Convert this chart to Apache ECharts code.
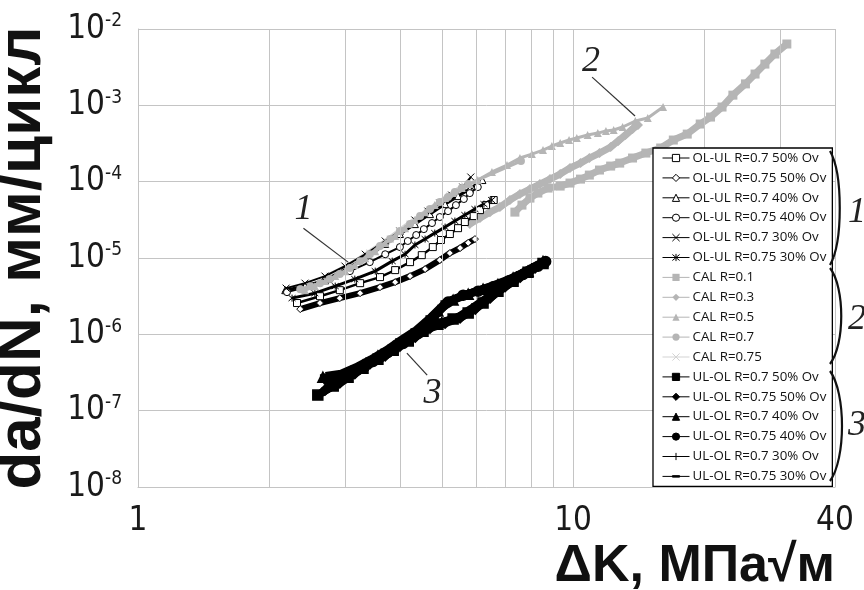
<!DOCTYPE html>
<html><head><meta charset="utf-8">
<script src="https://cdn.jsdelivr.net/npm/echarts/dist/echarts.min.js"></script>
<style>html,body{margin:0;padding:0;background:#fff}#c{width:864px;height:590px}</style>
</head><body><div id="c"></div>
<script>
// ---- axis ticks ----
const xMinorGrid = [2, 3, 4, 5, 6, 7, 8, 9, 20, 30];
const xRange = [1, 40];
const yRange = [1e-8, 1e-2];

// ---- series names ----
const namesOLUL = ['OL-UL R=0.7 50% Ov', 'OL-UL R=0.75 50% Ov', 'OL-UL R=0.7 40% Ov', 'OL-UL R=0.75 40% Ov', 'OL-UL R=0.7 30% Ov', 'OL-UL R=0.75 30% Ov'];
const namesCAL = ['CAL R=0.1', 'CAL R=0.3', 'CAL R=0.5', 'CAL R=0.7', 'CAL R=0.75'];
const namesULOL = ['UL-OL R=0.7 50% Ov', 'UL-OL R=0.75 50% Ov', 'UL-OL R=0.7 40% Ov', 'UL-OL R=0.75 40% Ov', 'UL-OL R=0.7 30% Ov', 'UL-OL R=0.75 30% Ov'];

// ---- data [ΔK, da/dN] ----
const olul_07_50 = [[2.32,2.57e-6],[2.62,3.16e-6],[2.91,3.79e-6],[3.24,4.68e-6],[3.60,5.62e-6],[3.90,6.94e-6],[4.22,8.83e-6],[4.49,1.09e-5],[4.76,1.39e-5],[4.97,1.72e-5],[5.21,2.06e-5],[5.44,2.46e-5],[5.64,2.96e-5],[5.91,3.54e-5],[6.11,4.24e-5],[6.31,4.93e-5],[6.57,5.74e-5]];
const olul_075_50 = [[2.36,2.14e-6],[2.62,2.57e-6],[2.91,2.98e-6],[3.24,3.46e-6],[3.60,4.15e-6],[3.90,4.83e-6],[4.22,5.79e-6],[4.57,7.15e-6],[4.94,9.38e-6],[5.21,1.16e-5],[5.50,1.35e-5],[5.74,1.58e-5],[5.95,1.77e-5]];
const olul_07_40 = [[2.18,3.79e-6],[2.42,4.28e-6],[2.69,5.13e-6],[2.99,6.94e-6],[3.33,9.96e-6],[3.70,1.53e-5],[4.00,2.06e-5],[4.33,2.78e-5],[4.69,3.76e-5],[5.08,5.08e-5],[5.44,6.47e-5],[5.79,8.0e-5],[6.19,1.05e-4]];
const olul_075_40 = [[2.20,3.57e-6],[2.49,4.28e-6],[2.76,5.29e-6],[3.07,6.73e-6],[3.41,8.83e-6],[3.70,1.12e-5],[4.00,1.39e-5],[4.17,1.67e-5],[4.36,2.00e-5],[4.54,2.39e-5],[4.74,2.87e-5],[4.94,3.44e-5],[5.16,4.11e-5],[5.38,4.93e-5],[5.61,5.92e-5],[5.79,7.08e-5],[6.04,8.49e-5]];
const olul_07_30 = [[2.19,4.03e-6],[2.42,4.68e-6],[2.69,5.79e-6],[2.99,7.83e-6],[3.33,1.12e-5],[3.70,1.67e-5],[4.00,2.25e-5],[4.33,3.14e-5],[4.64,4.11e-5],[4.94,5.24e-5],[5.26,6.67e-5],[5.58,8.49e-5],[5.82,1.15e-4]];
const olul_075_30 = [[2.26,2.98e-6],[2.55,3.46e-6],[2.84,4.28e-6],[3.15,5.29e-6],[3.51,6.73e-6],[3.84,9.1e-6],[4.11,1.12e-5],[4.33,1.48e-5],[4.57,1.77e-5],[4.81,2.12e-5],[5.08,2.54e-5],[5.35,3.05e-5],[5.64,3.65e-5],[5.95,4.37e-5],[6.24,5.08e-5],[6.50,5.74e-5]];

const cal_01 = [[7.35,3.99e-5],[7.63,4.93e-5],[7.96,6.09e-5],[8.30,7.09e-5],[8.76,8.24e-5],[9.34,8.75e-5],[9.84,9.59e-5],[10.4,1.08e-4],[10.9,1.22e-4],[11.5,1.42e-4],[12.2,1.60e-4],[12.8,1.75e-4],[13.7,2.04e-4],[14.7,2.37e-4],[15.9,2.76e-4],[17.0,3.51e-4],[18.3,4.2e-4],[19.6,5.69e-4],[20.7,7.02e-4],[22.0,9.5e-4],[23.3,1.36e-3],[24.9,1.91e-3],[26.2,2.57e-3],[27.6,3.47e-3],[29.1,4.7e-3],[31.0,6.36e-3]];
const cal_03 = [[5.79,2.78e-5],[6.11,3.34e-5],[6.44,3.99e-5],[6.79,4.64e-5],[7.16,5.74e-5],[7.55,6.87e-5],[7.96,8.0e-5],[8.39,9.3e-5],[8.85,1.08e-4],[9.34,1.26e-4],[9.84,1.51e-4],[10.4,1.75e-4],[10.9,2.04e-4],[11.5,2.37e-4],[12.2,2.84e-4],[12.7,3.41e-4],[13.2,4.08e-4],[13.7,4.9e-4],[14.1,5.52e-4]];
const cal_05 = [[2.42,3.79e-6],[2.55,4.28e-6],[2.69,4.98e-6],[2.84,5.79e-6],[2.99,6.73e-6],[3.15,8.07e-6],[3.33,9.96e-6],[3.51,1.23e-5],[3.70,1.57e-5],[3.90,1.94e-5],[4.11,2.46e-5],[4.33,3.14e-5],[4.57,3.99e-5],[4.81,4.93e-5],[5.08,6.09e-5],[5.29,7.09e-5],[5.55,8.24e-5],[5.79,9.3e-5],[6.04,1.05e-4],[6.51,1.34e-4],[7.05,1.65e-4],[7.55,2.04e-4],[8.04,2.30e-4],[8.53,2.59e-4],[8.94,2.93e-4],[9.34,3.21e-4],[9.79,3.51e-4],[10.2,3.73e-4],[10.8,4.08e-4],[11.4,4.33e-4],[11.9,4.61e-4],[12.4,4.75e-4],[13.0,5.2e-4],[13.9,6.23e-4],[14.85,6.82e-4],[16.1,9.5e-4]];
const cal_07 = [[2.36,3.91e-6],[2.49,4.28e-6],[2.62,4.68e-6],[2.76,5.29e-6],[2.91,6.15e-6],[3.07,7.37e-6],[3.24,9.1e-6],[3.41,1.12e-5],[3.60,1.44e-5],[3.80,1.77e-5],[4.00,2.25e-5],[4.22,2.78e-5],[4.45,3.54e-5],[4.69,4.37e-5],[4.94,5.4e-5],[5.16,6.28e-5],[5.35,7.3e-5],[5.55,8.24e-5],[5.74,9.3e-5],[7.59,1.86e-4]];
const cal_075 = [[2.76,5.79e-6],[3.07,7.83e-6],[3.41,1.16e-5],[3.80,1.77e-5],[4.22,2.78e-5],[4.69,4.24e-5],[5.21,6.47e-5],[5.64,8.75e-5]];

const ulol_07_50 = [[2.59,1.60e-7],[2.81,2.10e-7],[3.04,2.75e-7],[3.29,3.6e-7],[3.56,4.7e-7],[3.86,6.21e-7],[4.18,8.2e-7],[4.52,1.10e-6],[4.89,1.36e-6],[5.30,1.59e-6],[5.74,1.90e-6],[6.21,2.57e-6],[6.72,3.68e-6],[7.28,4.97e-6],[7.88,6.5e-6],[8.53,8.5e-6]];
const ulol_075_50 = [[2.69,1.86e-7],[2.91,2.3e-7],[3.15,3.05e-7],[3.41,4.1e-7],[3.70,5.2e-7],[4.00,7.0e-7],[4.34,9.2e-7],[4.69,1.2e-6],[5.08,1.40e-6],[5.50,1.64e-6],[5.96,2.14e-6],[6.45,3.0e-6],[6.98,4.2e-6],[7.56,5.6e-6],[8.18,7.4e-6]];
const ulol_07_40 = [[2.66,2.75e-7],[2.81,2.6e-7],[3.04,3.1e-7],[3.29,3.95e-7],[3.56,5.2e-7],[3.86,6.9e-7],[4.18,9.2e-7],[4.52,1.3e-6],[4.89,2.02e-6],[5.30,2.81e-6],[5.74,3.36e-6],[6.21,3.91e-6],[6.72,4.5e-6],[7.28,5.5e-6],[7.88,6.7e-6],[8.53,9.0e-6]];
const ulol_075_40 = [[2.73,2.51e-7],[2.96,2.8e-7],[3.20,3.5e-7],[3.47,4.4e-7],[3.75,5.8e-7],[4.07,7.6e-7],[4.40,1.03e-6],[4.77,1.64e-6],[5.16,2.65e-6],[5.59,3.26e-6],[6.05,3.68e-6],[6.55,4.2e-6],[7.10,5.0e-6],[7.68,6.1e-6],[8.31,7.8e-6],[8.65,9.0e-6]];
const ulol_07_30 = [[2.65,1.74e-7],[2.87,2.3e-7],[3.10,3.05e-7],[3.36,3.95e-7],[3.64,5.34e-7],[3.94,7.0e-7],[4.27,9.2e-7],[4.61,1.2e-6],[4.99,1.45e-6],[5.41,1.64e-6],[5.86,2.21e-6],[6.34,3.0e-6],[6.86,4.3e-6],[7.43,5.8e-6],[8.04,7.4e-6]];
const ulol_075_30 = [[2.70,2.84e-7],[2.93,3.05e-7],[3.17,3.7e-7],[3.43,4.7e-7],[3.72,6.2e-7],[4.02,8.4e-7],[4.36,1.14e-6],[4.72,1.69e-6],[5.11,2.65e-6],[5.54,3.16e-6],[6.00,3.68e-6],[6.49,4.3e-6],[7.03,5.1e-6],[7.61,6.3e-6],[8.24,8.0e-6]];

// ---- annotation anchors (data coords) ----
const annotations = [
  {text: '1', label: [2.40, 4.3e-5], from: [2.40, 2.46e-5], to: [3.04, 8.83e-6]},
  {text: '2', label: [11.0, 3.7e-3], from: [11.06, 2.34e-3], to: [13.88, 7.24e-4]},
  {text: '3', label: [4.75, 1.70e-7], from: [4.15, 5.67e-7], to: [4.62, 2.92e-7]}
];

const X_SYM = 'path://M0,0L10,10M10,0L0,10';
const STAR_SYM = 'path://M0,0L10,10M10,0L0,10M5,-1L5,11';
const PLUS_SYM = 'path://M5,0L5,10M0,5L10,5';
const DASH_SYM = 'path://M0,0L0,0M0,4L10,4L10,6L0,6ZM10,10L10,10';
const GRAY = '#b5b5b5', LGRAY = '#d3d3d3';

function hollow(name, data, symbol, width) {
  const lineMark = symbol.indexOf('path://') === 0;
  return {
    name, type: 'line', data, symbol, symbolSize: 7, z: 4,
    lineStyle: {color: '#000', width},
    itemStyle: lineMark ? {color: '#000', borderColor: '#000', borderWidth: 1} : {color: '#fff', borderColor: '#000', borderWidth: 1}
  };
}
function cal(name, data, symbol, width, color, size, z) {
  return {
    name, type: 'line', data, symbol, symbolSize: size, z,
    lineStyle: {color, width},
    itemStyle: symbol.indexOf('path://') === 0 ? {color, borderColor: color, borderWidth: 1.2} : {color}
  };
}
function filled(name, data, symbol) {
  return {
    name, type: 'line', data, symbol, symbolSize: 10, z: 5,
    lineStyle: {color: '#000', width: 8},
    itemStyle: {color: '#000', borderColor: '#000', borderWidth: 1.5}
  };
}

const series = [
  hollow(namesOLUL[0], olul_07_50, 'rect', 2.5),
  hollow(namesOLUL[1], olul_075_50, 'diamond', 6),
  hollow(namesOLUL[2], olul_07_40, 'triangle', 3),
  hollow(namesOLUL[3], olul_075_40, 'circle', 2),
  hollow(namesOLUL[4], olul_07_30, X_SYM, 2),
  hollow(namesOLUL[5], olul_075_30, STAR_SYM, 3),
  cal(namesCAL[0], cal_01, 'rect', 7, GRAY, 9, 3),
  cal(namesCAL[1], cal_03, 'diamond', 7, GRAY, 10, 3),
  cal(namesCAL[2], cal_05, 'triangle', 3, GRAY, 8, 4.5),
  cal(namesCAL[3], cal_07, 'circle', 3, GRAY, 8, 4.5),
  cal(namesCAL[4], cal_075, X_SYM, 7, LGRAY, 7, 3.5),
  filled(namesULOL[0], ulol_07_50, 'rect'),
  filled(namesULOL[1], ulol_075_50, 'diamond'),
  filled(namesULOL[2], ulol_07_40, 'triangle'),
  filled(namesULOL[3], ulol_075_40, 'circle'),
  filled(namesULOL[4], ulol_07_30, PLUS_SYM),
  filled(namesULOL[5], ulol_075_30, DASH_SYM),
  {
    name: 'minor-grid', type: 'line', data: [], z: 1, silent: true,
    markLine: {
      silent: true, symbol: ['none', 'none'], label: {show: false}, animation: false,
      lineStyle: {color: '#c4c4c4', width: 1, type: 'solid'},
      emphasis: {disabled: true},
      data: xMinorGrid.map(v => ({xAxis: v}))
    }
  }
];

const NARROW = "'Liberation Sans Narrow', 'DejaVu Sans Condensed', 'Liberation Sans', sans-serif";

const chart = echarts.init(document.getElementById('c'), null, {renderer: 'canvas'});
chart.setOption({
  animation: false,
  backgroundColor: '#fff',
  grid: {left: 138, right: 29, top: 29, bottom: 103, containLabel: false, outerBoundsMode: 'none'},
  xAxis: {
    type: 'log', logBase: 10, min: xRange[0], max: xRange[1], interval: 1,
    axisLine: {show: true, lineStyle: {color: '#c4c4c4', width: 1}},
    axisTick: {show: false},
    splitLine: {show: true, lineStyle: {color: '#c4c4c4', width: 1}},
    axisLabel: {fontFamily: NARROW, fontSize: 33, color: '#1a1a1a', margin: 18}
  },
  yAxis: {
    type: 'log', logBase: 10, min: yRange[0], max: yRange[1], interval: 1,
    name: 'da/dN, мм/цикл', nameLocation: 'middle', nameGap: 84,
    nameTextStyle: {fontFamily: "'Liberation Sans', Arial, sans-serif", fontWeight: 'bold', fontSize: 62, color: '#111'},
    axisLine: {show: true, lineStyle: {color: '#c4c4c4', width: 1}},
    axisTick: {show: false},
    splitLine: {show: true, lineStyle: {color: '#c4c4c4', width: 1}},
    axisLabel: {
      margin: 16,
      formatter: function (v) { const e = Math.round(Math.log10(v)); return '{b|10}{s|' + e + '}'; },
      rich: {
        b: {fontFamily: NARROW, fontSize: 33, color: '#1a1a1a', lineHeight: 34},
        s: {fontFamily: NARROW, fontSize: 19, color: '#1a1a1a', verticalAlign: 'top', lineHeight: 20}
      }
    }
  },
  legend: {
    orient: 'vertical', left: 653, top: 148,
    data: namesOLUL.concat(namesCAL, namesULOL),
    backgroundColor: '#fff', borderColor: '#000', borderWidth: 1.3,
    padding: [3, 6, 3, 9], itemGap: 5.9, itemWidth: 27, itemHeight: 9,
    lineStyle: {width: 1},
    itemStyle: {borderWidth: 1},
    textStyle: {fontFamily: "'Open Sans', sans-serif", fontSize: 13.3, color: '#111', lineHeight: 14, padding: [0, 0, 0, -2]},
    selectedMode: false, z: 10
  },
  series
});

function px(p) { return chart.convertToPixel({gridIndex: 0}, p); }
const graphics = [];
annotations.forEach(a => {
  const f = px(a.from), t = px(a.to), l = px(a.label);
  graphics.push({type: 'line', shape: {x1: f[0], y1: f[1], x2: t[0], y2: t[1]}, style: {stroke: '#333', lineWidth: 1.2}, z: 20});
  graphics.push({type: 'text', x: l[0], y: l[1], style: {text: a.text, font: "italic 36px 'Liberation Serif', serif", fill: '#222', align: 'center', verticalAlign: 'middle'}, z: 20});
});
// legend group braces and numbers
const braces = [
  {y1: 151, y2: 265, bulge: 843, num: '1', ny: 213},
  {y1: 268, y2: 364, bulge: 845, num: '2', ny: 320},
  {y1: 371, y2: 481, bulge: 846, num: '3', ny: 426}
];
braces.forEach(b => {
  const h = b.y2 - b.y1;
  graphics.push({type: 'bezierCurve', shape: {x1: 830, y1: b.y1, cpx1: b.bulge, cpy1: b.y1 + h * 0.2, cpx2: b.bulge, cpy2: b.y2 - h * 0.2, x2: 830, y2: b.y2}, style: {stroke: '#111', lineWidth: 2.2, fill: null}, z: 20});
  graphics.push({type: 'text', x: 857, y: b.ny, style: {text: b.num, font: "italic 36px 'Liberation Serif', serif", fill: '#222', align: 'center', verticalAlign: 'middle'}, z: 20});
});
graphics.push({type: 'text', x: 835, y: 567, style: {text: 'ΔK, МПа√м', font: "bold 52px 'Liberation Sans', Arial, sans-serif", fill: '#111', align: 'right', verticalAlign: 'middle'}, z: 20});
chart.setOption({graphic: graphics});
</script>
</body></html>
